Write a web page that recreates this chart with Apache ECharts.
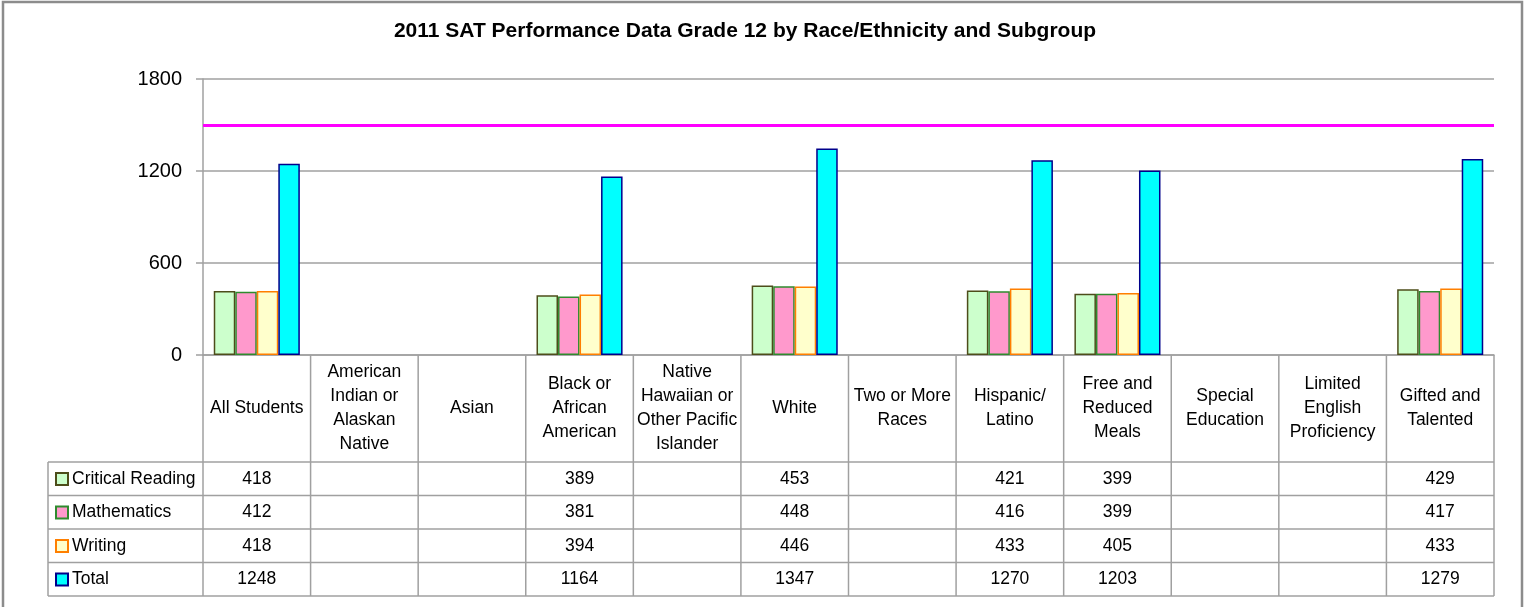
<!DOCTYPE html>
<html>
<head>
<meta charset="utf-8">
<script src="https://cdn.jsdelivr.net/npm/echarts@6/dist/echarts.min.js"></script>
<style>
html,body{margin:0;padding:0;background:#fff;}
#c{width:1525px;height:607px;}
</style>
</head>
<body>
<div id="c"></div>
<script>
// ---- data ----
const titleText = '2011 SAT Performance Data Grade 12 by Race/Ethnicity and Subgroup';
const categories = [
  'All Students',
  'American\nIndian or\nAlaskan\nNative',
  'Asian',
  'Black or\nAfrican\nAmerican',
  'Native\nHawaiian or\nOther Pacific\nIslander',
  'White',
  'Two or More\nRaces',
  'Hispanic/\nLatino',
  'Free and\nReduced\nMeals',
  'Special\nEducation',
  'Limited\nEnglish\nProficiency',
  'Gifted and\nTalented'
];
const seriesNames = ['Critical Reading', 'Mathematics', 'Writing', 'Total'];
const criticalReading = [418, null, null, 389, null, 453, null, 421, 399, null, null, 429];
const mathematics     = [412, null, null, 381, null, 448, null, 416, 399, null, null, 417];
const writing         = [418, null, null, 394, null, 446, null, 433, 405, null, null, 433];
const total           = [1248, null, null, 1164, null, 1347, null, 1270, 1203, null, null, 1279];
const goalLine = [1500];
const yTicks = [0, 600, 1200, 1800];

// ---- layout / styles ----
const GL = 203, GR = 1494, GT = 79, GB = 355;
const ROWS = [462, 495.5, 529, 562.5, 596];
const LEFTCOL = 48;
const lineCol = '#a0a0a0';
const fills = ['#CCFFCC', '#FF99CC', '#FFFFCC', '#00FFFF'];
const borders = ['#4D4D1A', '#2E8B2E', '#FF7F00', '#00008B'];
const seriesData = [criticalReading, mathematics, writing, total];
const FONT = '"Liberation Sans", Arial, sans-serif';

const chart = echarts.init(document.getElementById('c'));

// value-row axes (table body) drawn as axis labels
const rowAxes = seriesData.map((arr, r) => ({
  type: 'category',
  gridIndex: 0,
  position: 'bottom',
  data: categories,
  axisLine: {show: false},
  axisTick: {show: false},
  splitLine: {show: false},
  axisLabel: {
    interval: 0,
    margin: (ROWS[r] + ROWS[r + 1]) / 2 - GB,
    verticalAlign: 'middle',
    fontSize: 17.5,
    fontFamily: FONT,
    color: '#000',
    formatter: (v, i) => (arr[i] == null ? '' : String(arr[i]))
  }
}));

// table lines
const graphics = [];
const colW = (GR - GL) / categories.length;
for (let i = 0; i <= categories.length; i++) {
  const x = GL + i * colW;
  graphics.push({type: 'line', shape: {x1: x, y1: GB, x2: x, y2: ROWS[4]}, style: {stroke: lineCol, lineWidth: 1.5}, silent: true});
}
ROWS.forEach(y => {
  graphics.push({type: 'line', shape: {x1: LEFTCOL, y1: y, x2: GR, y2: y}, style: {stroke: lineCol, lineWidth: 1.5}, silent: true});
});
graphics.push({type: 'line', shape: {x1: LEFTCOL, y1: ROWS[0], x2: LEFTCOL, y2: ROWS[4]}, style: {stroke: lineCol, lineWidth: 1.5}, silent: true});
// outer frame
graphics.push({type: 'rect', shape: {x: 3, y: 2, width: 1519, height: 640}, style: {fill: 'none', stroke: '#8c8c8c', lineWidth: 2.5}, silent: true});

const option = {
  backgroundColor: '#fff',
  animation: false,
  title: {
    text: titleText,
    left: 740,
    textAlign: 'center',
    top: 16,
    textStyle: {fontSize: 21, fontWeight: 'bold', fontFamily: FONT, color: '#000'}
  },
  legend: {
    orient: 'vertical',
    left: 55,
    top: 469,
    padding: 0,
    itemWidth: 12,
    itemHeight: 12,
    itemGap: 13.5,
    icon: 'rect',
    data: seriesNames,
    itemStyle: {borderWidth: 2},
    textStyle: {fontSize: 17.5, fontFamily: FONT, color: '#000', lineHeight: 20, padding: [0, 0, 0, -1]},
    selectedMode: false
  },
  grid: {left: GL, right: 1525 - GR, top: GT, bottom: 607 - GB, containLabel: false},
  xAxis: [{
    type: 'category',
    position: 'bottom',
    data: categories,
    axisLine: {show: true, lineStyle: {color: lineCol, width: 1.5}},
    axisTick: {show: false},
    axisLabel: {
      interval: 0,
      margin: 53,
      verticalAlign: 'middle',
      lineHeight: 24,
      fontSize: 17.5,
      fontFamily: FONT,
      color: '#000'
    }
  }].concat(rowAxes),
  yAxis: {
    type: 'value',
    min: yTicks[0],
    max: yTicks[yTicks.length - 1],
    interval: yTicks[1] - yTicks[0],
    axisLine: {show: true, lineStyle: {color: lineCol, width: 1.5}},
    axisTick: {show: true, length: 7, lineStyle: {color: lineCol, width: 1.5}},
    splitLine: {show: true, lineStyle: {color: lineCol, width: 1.5}},
    axisLabel: {margin: 21, fontSize: 20, fontFamily: FONT, color: '#000', formatter: v => String(v)}
  },
  series: seriesNames.map((name, k) => ({
    name: name,
    type: 'bar',
    xAxisIndex: 0,
    data: seriesData[k],
    barGap: '0%',
    barCategoryGap: '20%',
    itemStyle: {color: fills[k], borderColor: borders[k], borderWidth: 1.5},
    markLine: k === 3 ? {
      silent: true,
      symbol: 'none',
      label: {show: false},
      lineStyle: {color: '#FF00FF', width: 3, type: 'solid'},
      data: goalLine.map(v => ({yAxis: v}))
    } : undefined
  })),
  graphic: graphics
};
chart.setOption(option);
</script>
</body>
</html>
